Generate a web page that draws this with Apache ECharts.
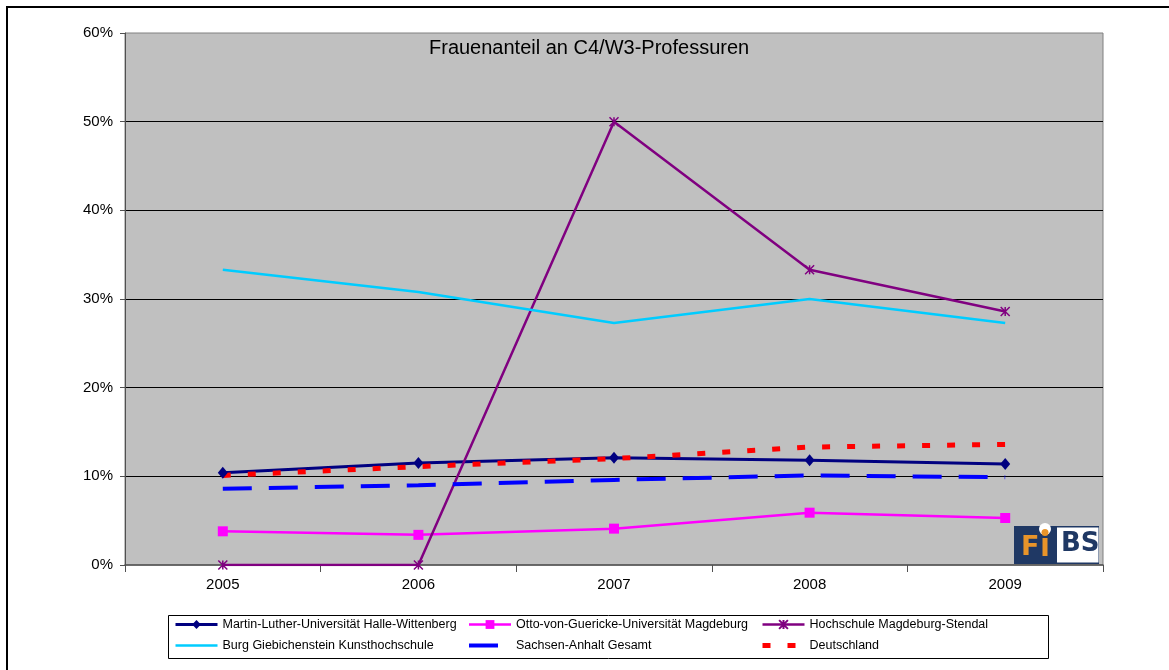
<!DOCTYPE html>
<html>
<head>
<meta charset="utf-8">
<script src="https://cdn.jsdelivr.net/npm/echarts@6/dist/echarts.min.js"></script>
<style>
  html, body { margin: 0; padding: 0; background: #fff; }
  #chart { width: 1169px; height: 670px; }
</style>
</head>
<body>
<div id="chart"></div>
<script>
// Werte in Prozent
const years = ['2005', '2006', '2007', '2008', '2009'];
const mlu = [10.4, 11.5, 12.1, 11.8, 11.4];
const ovgu = [3.8, 3.4, 4.1, 5.9, 5.3];
const hsm = [0, 0, 50, 33.3, 28.6];
const burg = [33.3, 30.8, 27.3, 30.0, 27.3];
const lsa = [8.6, 9.0, 9.6, 10.1, 9.9];
const de = [10.1, 11.1, 12.0, 13.3, 13.6];

const names = [
  'Martin-Luther-Universität Halle-Wittenberg',
  'Otto-von-Guericke-Universität Magdeburg',
  'Hochschule Magdeburg-Stendal',
  'Burg Giebichenstein Kunsthochschule',
  'Sachsen-Anhalt Gesamt',
  'Deutschland'
];

const font = 'Liberation Sans, Arial, sans-serif';
const star = 'path://M0,0L10,10M10,0L0,10M5,0L5,10';
// Legendeneintrag, optional ohne Marker (nur Linie)
const item = (name, w, noMarker) => {
  const it = { name: name, lineStyle: { width: w } };
  if (noMarker) it.itemStyle = { color: 'rgba(0,0,0,0)', borderWidth: 0 };
  return it;
};

const legendBase = {
  orient: 'vertical',
  top: 618,
  padding: 0,
  itemGap: 8,
  itemWidth: 42,
  itemHeight: 11,
  textStyle: { fontFamily: font, fontSize: 12.5, color: '#000' }
};

const chart = echarts.init(document.getElementById('chart'));
chart.setOption({
  animation: false,
  backgroundColor: '#fff',
  title: {
    text: 'Frauenanteil an C4/W3-Professuren',
    left: 429,
    top: 38,
    padding: 0,
    textStyle: { fontFamily: font, fontSize: 20, fontWeight: 'normal', color: '#000' }
  },
  grid: {
    left: 125, right: 66, top: 33, bottom: 105,
    show: true,
    backgroundColor: '#c0c0c0',
    borderColor: '#808080',
    borderWidth: 1
  },
  legend: [
    Object.assign({}, legendBase, { left: 174, data: [item(names[0], 3), item(names[3], 2.5, true)] }),
    Object.assign({}, legendBase, { left: 467, data: [item(names[1], 2.5), item(names[4], 4, true)] }),
    Object.assign({}, legendBase, { left: 760, data: [item(names[2], 2.5), item(names[5], 5, true)] })
  ],
  xAxis: {
    type: 'category',
    data: years,
    boundaryGap: true,
    axisLine: { lineStyle: { color: '#505050', width: 1.5 } },
    axisTick: { show: true, length: 7, inside: false, lineStyle: { color: '#505050' } },
    axisLabel: { margin: 12, fontFamily: font, fontSize: 15, color: '#000' },
    splitLine: { show: false }
  },
  yAxis: {
    type: 'value',
    min: 0,
    max: 60,
    interval: 10,
    axisLine: { show: true, lineStyle: { color: '#505050' } },
    axisTick: { show: true, length: 5, lineStyle: { color: '#505050' } },
    axisLabel: { margin: 12, fontFamily: font, fontSize: 15, color: '#000', formatter: '{value}%' },
    splitLine: { show: true, showMinLine: false, showMaxLine: false, lineStyle: { color: '#000', width: 1 } }
  },
  series: [
    {
      name: names[0], type: 'line', data: mlu,
      symbol: 'diamond', symbolSize: [10, 12],
      itemStyle: { color: '#000080' },
      lineStyle: { color: '#000080', width: 3 }
    },
    {
      name: names[1], type: 'line', data: ovgu,
      symbol: 'rect', symbolSize: 10,
      itemStyle: { color: '#ff00ff' },
      lineStyle: { color: '#ff00ff', width: 2.5 }
    },
    {
      name: names[2], type: 'line', data: hsm,
      symbol: star, symbolSize: 9,
      itemStyle: { color: 'rgba(0,0,0,0)', borderColor: '#800080', borderWidth: 1.5 },
      lineStyle: { color: '#800080', width: 2.5 }
    },
    {
      name: names[3], type: 'line', data: burg,
      symbol: 'none',
      itemStyle: { color: '#00ccff' },
      lineStyle: { color: '#00ccff', width: 2.5 }
    },
    {
      name: names[4], type: 'line', data: lsa,
      symbol: 'none',
      itemStyle: { color: '#0000ff' },
      lineStyle: { color: '#0000ff', width: 4, type: [29, 17] }
    },
    {
      name: names[5], type: 'line', data: de,
      symbol: 'none',
      itemStyle: { color: '#ff0000' },
      lineStyle: { color: '#ff0000', width: 5, type: [8, 17] }
    }
  ],
  graphic: [
    // äußerer Rahmen
    { type: 'rect', silent: true, shape: { x: 7, y: 7, width: 1200, height: 700 },
      style: { fill: 'none', stroke: '#000', lineWidth: 2 } },
    // Legendenrahmen
    { type: 'rect', silent: true, z: -1, shape: { x: 168.5, y: 615.5, width: 880, height: 43 },
      style: { fill: '#fff', stroke: '#000', lineWidth: 1 } },
    // FiBS Logo
    { type: 'group', left: 1014, top: 523, z: 100, children: [
      { type: 'rect', shape: { x: 0, y: 0, width: 85, height: 38 }, style: { fill: '#1f3864' } },
      { type: 'rect', shape: { x: 43, y: 1.5, width: 41.5, height: 35 }, style: { fill: '#fff' } },
      { type: 'circle', shape: { cx: 31, cy: 3, r: 6 }, style: { fill: '#fff' } },
      { type: 'circle', shape: { cx: 31, cy: 6.5, r: 3.5 }, style: { fill: '#e8942a' } },
      { type: 'text', x: 7, y: 8, style: { text: 'F', fill: '#e8942a', fontFamily: 'DejaVu Sans, sans-serif', fontWeight: 'bold', fontSize: 27 } },
      { type: 'rect', shape: { x: 28.5, y: 12, width: 5, height: 18 }, style: { fill: '#e8942a' } },
      { type: 'text', x: 47, y: 5, style: { text: 'BS', fill: '#1f3864', fontFamily: 'DejaVu Sans, sans-serif', fontWeight: 'bold', fontSize: 26 } }
    ] }
  ]
});
</script>
</body>
</html>
